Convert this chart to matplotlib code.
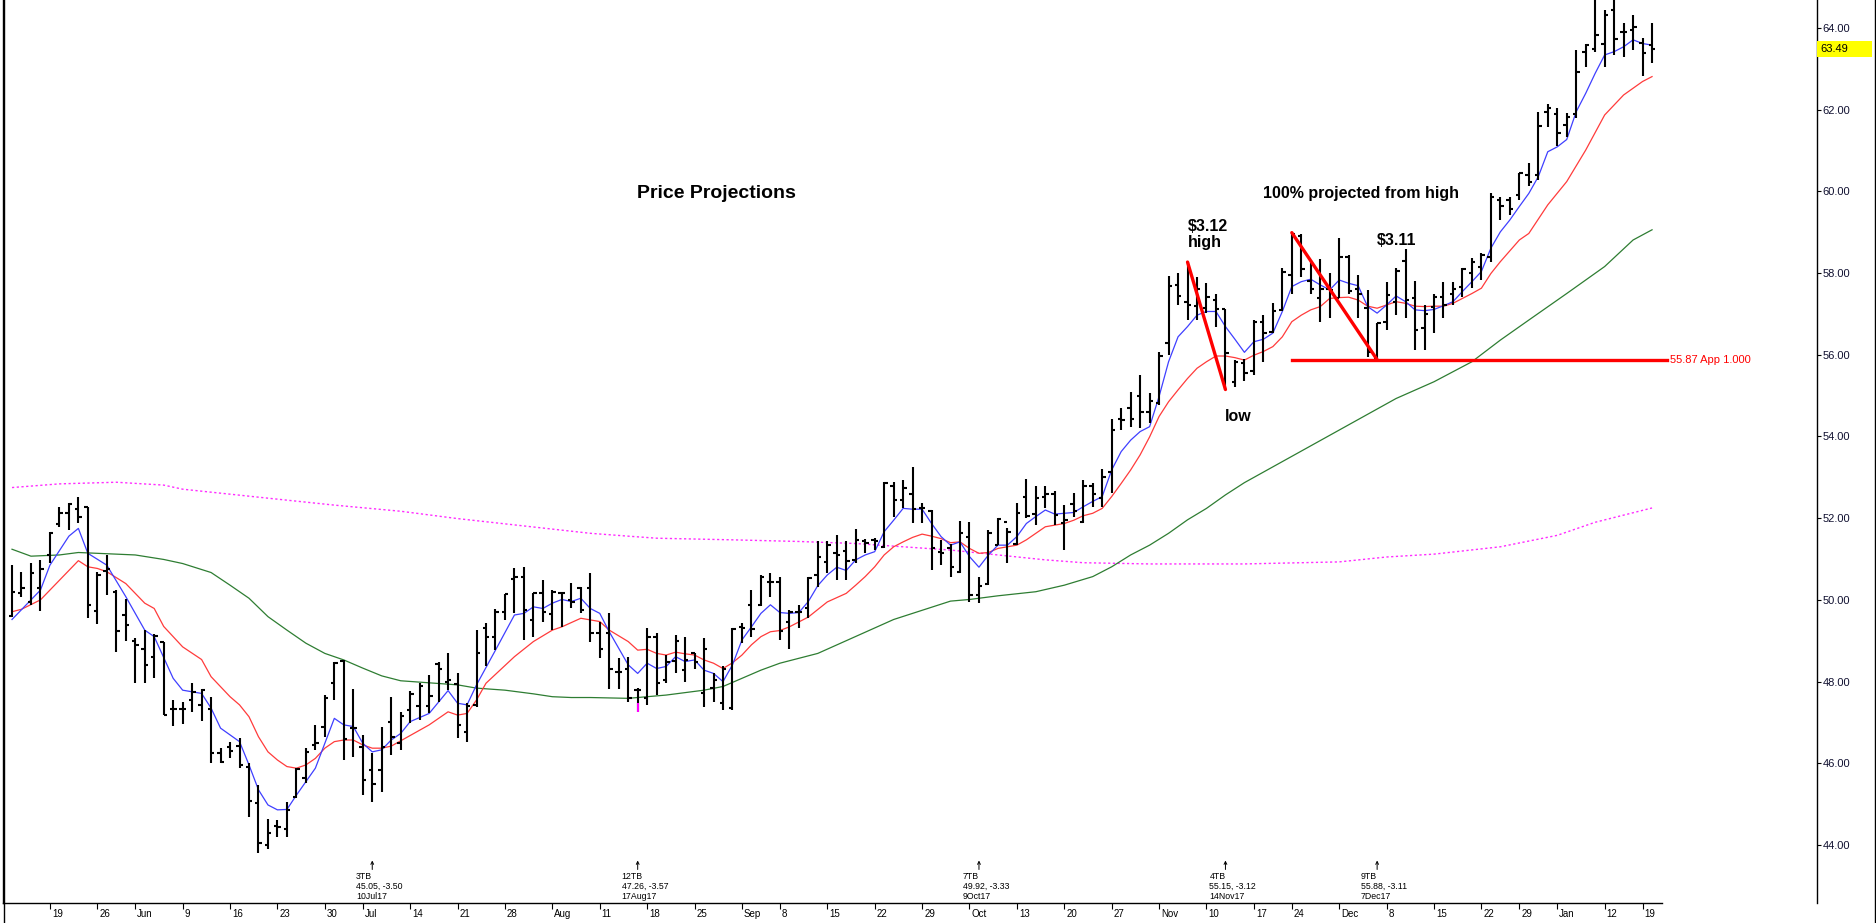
import numpy as np
import pandas as pd
import matplotlib
matplotlib.use('Agg')
import matplotlib.pyplot as plt
import matplotlib.transforms as mtransforms
from matplotlib.lines import Line2D
from matplotlib.patches import Rectangle

plt.rcParams['font.family'] = ['Liberation Sans', 'DejaVu Sans']

# --- daily bars, 15 May 2017 .. 22 Jan 2018 ---
holidays = ['2017-05-29', '2017-07-04', '2017-09-04', '2017-11-23',
            '2017-12-25', '2018-01-01', '2018-01-15']

opens = [49.61, 50.18, 49.95, 50.28, 51.10, 51.86, 52.12, 52.22, 52.27, 49.73,
         50.70, 50.20, 49.63, 49.00, 48.80, 48.61, 48.98, 47.32, 47.32, 47.55,
         47.43, 47.32, 46.26, 46.40, 46.43, 45.92, 45.02, 44.00, 44.46, 44.40,
         45.18, 45.63, 46.45, 46.90, 47.96, 48.50, 46.87, 46.40, 45.83, 45.84,
         47.02, 46.50, 47.30, 47.40, 47.40, 48.43, 48.00, 47.95, 46.76, 47.43,
         49.30, 49.10, 49.71, 50.50, 50.57, 49.51, 50.16, 49.65, 50.18, 50.00,
         50.28, 50.28, 49.20, 49.20, 48.24, 48.30, 47.80, 47.60, 49.10, 48.05,
         48.50, 48.28, 48.69, 47.71, 47.84, 47.47, 47.35, 49.34, 49.87, 49.88,
         50.45, 50.45, 49.47, 49.71, 49.80, 50.60, 50.93, 51.14, 51.20, 50.98,
         51.43, 51.47, 51.30, 52.80, 52.45, 52.60, 52.24, 52.18, 51.18, 51.26,
         50.69, 51.55, 50.12, 50.40, 51.34, 51.90, 51.38, 52.52, 52.10, 52.52,
         52.60, 51.87, 52.35, 51.90, 52.80, 52.50, 53.14, 54.44, 54.69, 54.98,
         54.61, 54.81, 56.28, 57.70, 57.30, 57.20, 57.14, 57.34, 57.11, 55.34,
         55.80, 55.60, 56.80, 56.57, 57.10, 57.95, 58.90, 57.80, 57.38, 57.60,
         57.40, 58.40, 57.60, 57.14, 55.90, 56.80, 57.30, 58.30, 57.40, 56.65,
         57.18, 57.42, 57.50, 57.66, 58.00, 58.16, 58.40, 59.80, 59.79, 59.90,
         60.40, 60.40, 61.95, 61.90, 61.63, 61.90, 63.42, 63.48, 63.60, 64.44,
         63.90, 63.95, 63.64, 63.58]
highs = [50.85, 50.69, 50.91, 50.98, 51.65, 52.27, 52.36, 52.53, 52.27, 50.69,
         51.10, 50.24, 50.02, 49.06, 49.26, 49.16, 48.98, 47.55, 47.51, 47.96,
         47.81, 47.63, 46.37, 46.53, 46.61, 46.00, 45.47, 44.63, 44.61, 45.06,
         45.88, 46.37, 46.94, 47.67, 48.49, 48.53, 47.81, 46.69, 46.24, 46.90,
         47.63, 47.26, 47.78, 47.96, 48.16, 48.49, 48.71, 48.20, 47.47, 49.26,
         49.43, 49.77, 50.14, 50.77, 50.81, 50.18, 50.49, 50.24, 50.20, 50.42,
         50.32, 50.67, 49.47, 49.67, 48.57, 48.61, 47.84, 49.30, 49.18, 48.65,
         49.14, 49.10, 48.69, 49.06, 48.20, 48.37, 49.30, 49.44, 50.24, 50.61,
         50.65, 50.57, 49.75, 49.87, 50.57, 51.43, 51.43, 51.60, 51.43, 51.73,
         51.48, 51.51, 52.88, 52.88, 52.94, 53.25, 52.36, 52.20, 51.47, 51.38,
         51.92, 51.90, 50.57, 51.71, 52.00, 51.75, 52.38, 52.97, 52.79, 52.79,
         52.67, 52.32, 52.61, 52.94, 52.85, 53.20, 54.44, 54.69, 55.10, 55.50,
         55.06, 56.08, 57.93, 57.99, 58.27, 57.91, 57.75, 57.50, 57.11, 55.87,
         55.90, 56.85, 56.97, 57.26, 58.12, 58.99, 58.95, 58.32, 58.34, 57.99,
         58.87, 58.44, 57.95, 57.58, 56.79, 57.79, 58.12, 58.60, 57.80, 57.22,
         57.50, 57.79, 57.79, 58.12, 58.36, 58.48, 59.97, 59.87, 59.87, 60.44,
         60.70, 61.95, 62.15, 62.03, 61.91, 63.46, 63.62, 64.75, 64.44, 64.75,
         64.13, 64.32, 63.75, 64.11]
lows = [49.59, 50.08, 49.88, 49.73, 50.90, 51.79, 51.71, 51.89, 49.55, 49.41,
        50.12, 48.72, 48.99, 47.97, 47.96, 48.08, 47.17, 46.91, 46.96, 47.25,
        47.04, 46.00, 46.00, 46.12, 45.88, 44.69, 43.80, 43.90, 44.20, 44.20,
        45.14, 45.51, 46.33, 46.65, 47.55, 46.07, 46.16, 45.22, 45.05, 45.30,
        46.20, 46.32, 46.98, 47.06, 47.22, 47.51, 47.80, 46.63, 46.53, 47.39,
        48.37, 48.77, 49.51, 49.67, 49.02, 49.10, 49.47, 49.26, 49.34, 49.79,
        49.67, 48.98, 48.57, 47.83, 47.83, 47.51, 47.26, 47.43, 47.67, 47.96,
        48.20, 48.00, 48.32, 47.39, 47.51, 47.31, 47.30, 48.94, 49.10, 49.84,
        50.08, 49.02, 48.81, 49.30, 49.55, 50.32, 50.65, 50.49, 50.49, 50.90,
        51.14, 51.22, 51.26, 52.04, 52.24, 51.88, 51.88, 50.73, 50.85, 50.57,
        50.65, 49.95, 49.92, 50.36, 51.34, 50.90, 51.34, 52.00, 51.84, 52.24,
        51.84, 51.22, 52.04, 51.87, 52.28, 52.28, 52.61, 54.16, 54.24, 54.20,
        54.32, 54.77, 55.99, 57.22, 56.85, 56.85, 57.02, 56.69, 55.15, 55.22,
        55.35, 55.50, 55.83, 56.53, 57.06, 57.50, 57.90, 57.50, 56.81, 56.89,
        57.38, 57.50, 56.89, 55.95, 55.88, 56.60, 56.97, 56.89, 56.12, 56.12,
        56.53, 56.89, 57.22, 57.42, 57.63, 57.83, 58.28, 59.30, 59.42, 59.79,
        60.12, 60.28, 61.58, 61.10, 61.34, 61.79, 63.05, 63.42, 63.05, 63.34,
        63.28, 63.46, 62.82, 63.15]
closes = [50.20, 50.30, 50.67, 50.75, 51.63, 52.13, 52.35, 52.04, 49.88, 50.60,
          50.75, 49.24, 49.39, 48.90, 48.41, 49.12, 47.18, 47.32, 47.32, 47.75,
          47.79, 46.26, 46.02, 46.30, 45.96, 45.08, 44.04, 44.29, 44.45, 44.86,
          45.85, 46.28, 46.49, 47.59, 48.46, 46.60, 46.86, 45.60, 45.50, 46.41,
          46.65, 47.16, 47.70, 47.88, 47.65, 48.30, 48.04, 46.94, 47.40, 48.71,
          49.10, 49.71, 50.14, 50.57, 49.75, 50.16, 49.71, 50.20, 50.16, 49.96,
          49.75, 49.20, 48.80, 48.32, 48.24, 47.59, 47.79, 49.10, 47.97, 48.49,
          49.00, 48.53, 48.49, 48.79, 48.04, 48.30, 49.28, 49.30, 49.28, 50.57,
          50.45, 49.25, 49.71, 49.71, 50.53, 51.06, 51.34, 51.10, 50.95, 51.47,
          51.39, 51.45, 52.85, 52.45, 52.73, 52.22, 52.26, 51.26, 51.14, 50.80,
          51.63, 50.13, 50.33, 51.63, 51.97, 51.67, 52.12, 52.05, 52.49, 52.60,
          52.08, 51.96, 52.18, 52.80, 52.60, 53.02, 54.17, 54.40, 54.44, 54.61,
          54.88, 55.98, 57.68, 57.45, 57.22, 57.60, 57.42, 57.11, 56.04, 55.83,
          55.55, 56.81, 56.54, 57.06, 58.02, 58.95, 58.10, 57.60, 57.60, 57.58,
          58.40, 57.55, 57.50, 56.08, 56.77, 57.46, 58.04, 57.35, 56.60, 57.00,
          57.42, 57.22, 57.60, 58.09, 58.28, 58.44, 59.87, 59.63, 59.58, 60.44,
          60.24, 61.60, 62.03, 61.42, 61.83, 62.93, 63.58, 63.83, 64.32, 63.72,
          63.90, 64.03, 63.38, 63.49]

# moving averages (bar number, price)
blue_idx = [0, 3, 4, 6, 7, 8, 10, 12, 14, 15, 17, 18, 20, 21, 22, 24, 25, 26, 27, 28,
            29, 30, 31, 32, 33, 34, 35, 36, 37, 38, 39, 40, 41, 42, 44, 46, 47, 48, 49, 51,
            53, 54, 55, 56, 57, 58, 59, 60, 61, 62, 63, 65, 66, 67, 68, 69, 70, 71, 72, 73,
            74, 75, 76, 77, 78, 79, 80, 81, 82, 83, 84, 85, 86, 87, 88, 89, 90, 91, 92, 93,
            94, 95, 96, 97, 98, 99, 100, 101, 102, 103, 104, 105, 106, 107, 108, 109, 110,
            111, 112, 113, 114, 115, 116, 117, 118, 119, 120, 121, 122, 123, 124, 125, 126,
            127, 128, 129, 130, 131, 132, 133, 134, 135, 136, 137, 138, 139, 140, 141, 142,
            143, 144, 145, 146, 147, 148, 149, 150, 151, 152, 153, 154, 155, 156, 157, 158,
            159, 160, 161, 162, 163, 164, 165, 166, 167, 168, 169, 170, 171, 172, 173]
blue_val = [49.52, 50.24, 50.85, 51.56, 51.75, 51.14, 50.85, 50.08, 49.26, 49.10, 48.08,
            47.79, 47.71, 47.35, 46.86, 46.53, 45.96, 45.35, 44.98, 44.86, 44.87, 45.22,
            45.55, 45.88, 46.49, 47.10, 46.94, 46.90, 46.49, 46.28, 46.33, 46.57, 46.73,
            47.02, 47.22, 47.78, 47.47, 47.43, 47.92, 48.77, 49.63, 49.67, 49.83, 49.79,
            49.92, 50.01, 49.96, 50.04, 49.79, 49.67, 49.22, 48.41, 48.20, 48.45, 48.32,
            48.37, 48.61, 48.49, 48.53, 48.28, 48.20, 48.00, 48.41, 49.02, 49.34, 49.67,
            49.88, 49.69, 49.67, 49.69, 49.96, 50.35, 50.61, 50.80, 50.72, 50.98, 51.10,
            51.18, 51.67, 51.95, 52.24, 52.22, 52.22, 51.87, 51.55, 51.34, 51.42, 51.06,
            50.80, 51.10, 51.34, 51.34, 51.55, 51.87, 52.04, 52.20, 52.10, 52.12, 52.14,
            52.28, 52.41, 52.53, 53.18, 53.63, 53.91, 54.12, 54.24, 54.98, 55.83, 56.44,
            56.69, 56.97, 57.06, 57.06, 56.69, 56.38, 56.06, 56.32, 56.38, 56.53, 57.06,
            57.67, 57.79, 57.85, 57.71, 57.59, 57.83, 57.75, 57.69, 57.18, 57.02, 57.22,
            57.44, 57.30, 57.10, 57.08, 57.11, 57.20, 57.30, 57.55, 57.79, 58.04, 58.61,
            59.01, 59.30, 59.63, 59.95, 60.36, 60.97, 61.09, 61.27, 61.95, 62.40, 62.89,
            63.34, 63.42, 63.54, 63.71, 63.62, 63.58]

red_idx = [0, 1, 3, 7, 8, 9, 10, 12, 14, 15, 16, 18, 20, 21, 23, 24, 25, 26, 27, 28,
           29, 30, 31, 32, 33, 34, 35, 36, 37, 38, 39, 40, 44, 46, 47, 48, 49, 50, 53, 55,
           57, 58, 60, 61, 62, 63, 65, 66, 67, 68, 69, 70, 71, 72, 73, 74, 75, 76, 77, 78,
           79, 80, 81, 82, 84, 86, 88, 89, 90, 91, 92, 93, 94, 95, 96, 97, 98, 99, 100,
           101, 102, 103, 104, 105, 106, 107, 108, 109, 110, 111, 112, 113, 114, 115, 116,
           117, 118, 119, 120, 121, 122, 123, 124, 125, 126, 127, 128, 129, 130, 131, 132,
           133, 134, 135, 136, 137, 138, 139, 140, 141, 142, 143, 144, 145, 146, 147, 148,
           149, 150, 151, 152, 153, 154, 155, 156, 157, 159, 160, 162, 164, 166, 168, 170,
           172, 173]
red_val = [49.71, 49.77, 50.00, 50.96, 50.81, 50.77, 50.69, 50.40, 49.92, 49.79, 49.35,
           48.85, 48.54, 48.12, 47.63, 47.43, 47.14, 46.65, 46.28, 46.08, 45.92, 45.88,
           45.96, 46.12, 46.37, 46.53, 46.57, 46.57, 46.45, 46.37, 46.37, 46.42, 46.94,
           47.26, 47.18, 47.22, 47.55, 47.96, 48.61, 48.98, 49.26, 49.34, 49.55, 49.51,
           49.47, 49.26, 48.98, 48.77, 48.79, 48.69, 48.65, 48.72, 48.68, 48.65, 48.53,
           48.45, 48.32, 48.46, 48.65, 48.90, 49.10, 49.22, 49.25, 49.34, 49.58, 49.95,
           50.16, 50.36, 50.57, 50.81, 51.10, 51.30, 51.42, 51.53, 51.61, 51.56, 51.50,
           51.40, 51.42, 51.26, 51.14, 51.16, 51.26, 51.30, 51.34, 51.47, 51.63, 51.79,
           51.83, 51.87, 51.95, 52.06, 52.12, 52.24, 52.53, 52.85, 53.18, 53.55, 53.99,
           54.49, 54.85, 55.14, 55.42, 55.67, 55.83, 55.97, 55.97, 55.93, 55.87, 55.99,
           56.08, 56.20, 56.44, 56.81, 56.97, 57.10, 57.18, 57.38, 57.40, 57.41, 57.34,
           57.19, 57.14, 57.22, 57.30, 57.26, 57.19, 57.18, 57.19, 57.19, 57.26, 57.38,
           57.50, 57.63, 57.99, 58.28, 58.81, 58.97, 59.67, 60.24, 61.01, 61.87, 62.36,
           62.69, 62.81]

green_idx = [0, 2, 5, 7, 9, 13, 16, 18, 21, 23, 25, 27, 29, 31, 33, 35, 37, 39, 41, 44,
             47, 49, 52, 55, 57, 59, 61, 63, 65, 67, 69, 71, 73, 75, 77, 79, 81, 83, 85,
             93, 95, 99, 101, 104, 108, 111, 114, 116, 118, 120, 122, 124, 126, 128, 130,
             146, 150, 154, 157, 160, 164, 168, 171, 173]
green_val = [51.24, 51.07, 51.10, 51.16, 51.14, 51.10, 50.99, 50.89, 50.67, 50.36, 50.04,
             49.59, 49.26, 48.94, 48.69, 48.53, 48.33, 48.14, 48.02, 47.97, 47.92, 47.84,
             47.79, 47.70, 47.63, 47.61, 47.61, 47.60, 47.59, 47.63, 47.67, 47.73, 47.79,
             47.88, 48.08, 48.28, 48.45, 48.57, 48.69, 49.52, 49.67, 49.97, 50.01, 50.10,
             50.20, 50.36, 50.57, 50.81, 51.10, 51.34, 51.63, 51.96, 52.24, 52.57, 52.87,
             54.93, 55.34, 55.83, 56.36, 56.85, 57.50, 58.16, 58.81, 59.06]

magenta_idx = [0, 5, 11, 16, 18, 27, 34, 41, 47, 54, 61, 65, 68, 76, 83, 89, 94, 99,
               104, 109, 113, 120, 130, 140, 145, 150, 157, 163, 167, 173]
magenta_val = [52.75, 52.84, 52.88, 52.81, 52.71, 52.49, 52.32, 52.17, 51.99, 51.81,
               51.63, 51.56, 51.51, 51.47, 51.43, 51.38, 51.30, 51.22, 51.10, 50.98,
               50.91, 50.88, 50.88, 50.93, 51.05, 51.12, 51.30, 51.58, 51.90, 52.25]

# projection drawing
swing1 = ([124, 128], [58.27, 55.15])
swing2 = ([135, 144], [58.99, 55.88])
target_price = 55.87
target_span = [135, 174.6]

# trough markers under the date axis
tb_idx = [38, 66, 102, 128, 144]
tb_text = [['3TB', '45.05, -3.50', '10Jul17'],
           ['12TB', '47.26, -3.57', '17Aug17'],
           ['7TB', '49.92, -3.33', '9Oct17'],
           ['4TB', '55.15, -3.12', '14Nov17'],
           ['9TB', '55.88, -3.11', '7Dec17']]

tick_labels = ['19', '26', 'Jun', '9', '16', '23', '30', 'Jul', '14', '21', '28',
               'Aug', '11', '18', '25', 'Sep', '8', '15', '22', '29', 'Oct', '13',
               '20', '27', 'Nov', '10', '17', '24', 'Dec', '8', '15', '22', '29',
               'Jan', '12', '19']
last_price = 63.49

days = pd.bdate_range('2017-05-15', '2018-01-22')
days = days[~days.isin(pd.to_datetime(holidays))]
x = np.arange(len(days))
fridays = pd.date_range('2017-05-19', '2018-01-19', freq='W-FRI')
tick_pos = [days.get_loc(d) for d in fridays]

W, H = 1876, 923
fig = plt.figure(figsize=(W / 100, H / 100), dpi=100)
ax = fig.add_axes([3 / W, 20 / H, 1814 / W, 903 / H])
ax.set_xlim(-0.95, 190.4)
ax.set_ylim(42.58, 64.685)

# moving averages
ax.plot(magenta_idx, magenta_val, color='#ff2cff', lw=1.0, dashes=(1.6, 1.8))
ax.plot(green_idx, green_val, color='#2e7d32', lw=0.9)
ax.plot(red_idx, red_val, color='#ff3b3b', lw=0.9)
ax.plot(blue_idx, blue_val, color='#3f3fff', lw=0.9)

# OHLC bars
ax.vlines(x, lows, highs, color='black', lw=1.5)
ax.hlines(opens, x - 0.36, x, color='black', lw=1.5)
ax.hlines(closes, x, x + 0.36, color='black', lw=1.5)
ax.vlines(66, lows[66], lows[66] + 0.22, color='#ff00ff', lw=1.5)

# projection
ax.plot(*swing1, color='red', lw=2.4, solid_capstyle='round')
ax.plot(*swing2, color='red', lw=2.4, solid_capstyle='round')
ax.plot(target_span, [target_price] * 2, color='red', lw=2.4, clip_on=False)
ax.text(174.9, target_price, '55.87 App 1.000', color='red', fontsize=8,
        va='center', ha='left')

bold = dict(fontweight='bold', color='black')
ax.text(74.3, 59.96, 'Price Projections', fontsize=14, ha='center', va='center', **bold)
ax.text(124.0, 59.15, '$3.12', fontsize=11.5, ha='left', va='center', **bold)
ax.text(124.0, 58.76, 'high', fontsize=11.5, ha='left', va='center', **bold)
ax.text(142.3, 59.96, '100% projected from high', fontsize=11.5, ha='center', va='center', **bold)
ax.text(146.1, 58.79, '$3.11', fontsize=11.5, ha='center', va='center', **bold)
ax.text(129.3, 54.48, 'low', fontsize=11.5, ha='center', va='center', **bold)

for i, lines in zip(tb_idx, tb_text):
    ax.annotate('', xy=(i, 43.62), xytext=(i, 43.40),
                arrowprops=dict(arrowstyle='->', lw=0.7, color='black',
                                shrinkA=0, shrinkB=0, mutation_scale=5))
    for k, s in enumerate(lines):
        ax.text(i - 1.7, 43.24 - 0.245 * k, s, fontsize=6.3, ha='left', va='center')

# axes
ax.spines['top'].set_visible(False)
ax.spines['bottom'].set_bounds(-0.95, 174.05)
for s in ['left', 'right', 'bottom']:
    ax.spines[s].set_linewidth(1.0)

ax.yaxis.tick_right()
yt = np.arange(44, 65, 2)
ax.set_yticks(yt)
ax.set_yticklabels([f'{v:.2f}' for v in yt])
ax.tick_params(axis='y', direction='out', length=3, width=0.8, pad=1,
               labelsize=8, labelcolor='#101030')

ax.set_xticks(tick_pos)
ax.set_xticklabels(tick_labels)
ax.tick_params(axis='x', direction='out', length=4, width=0.8, pad=0.5, labelsize=7)
offset = mtransforms.ScaledTranslation(2 / 100, 0, fig.dpi_scale_trans)
for lab in ax.get_xticklabels():
    lab.set_horizontalalignment('left')
    lab.set_transform(lab.get_transform() + offset)

# last price box
tr = mtransforms.blended_transform_factory(ax.transAxes, ax.transData)
ax.add_patch(Rectangle((1.0, last_price - 0.19), 55 / 1814, 0.38, transform=tr,
                       facecolor='#ffff00', edgecolor='none', clip_on=False, zorder=5))
ax.text(1.0 + 3 / 1814, last_price, f'{last_price:.2f}', transform=tr, fontsize=8,
        va='center', ha='left', color='black', zorder=6)

# frame of the picture
fig.add_artist(Line2D([3.5 / W] * 2, [0, 1], color='black', lw=1.0))
fig.add_artist(Line2D([1874.5 / W] * 2, [0, 1], color='black', lw=1.0))

fig.savefig('out.png', dpi=100, facecolor='white')
